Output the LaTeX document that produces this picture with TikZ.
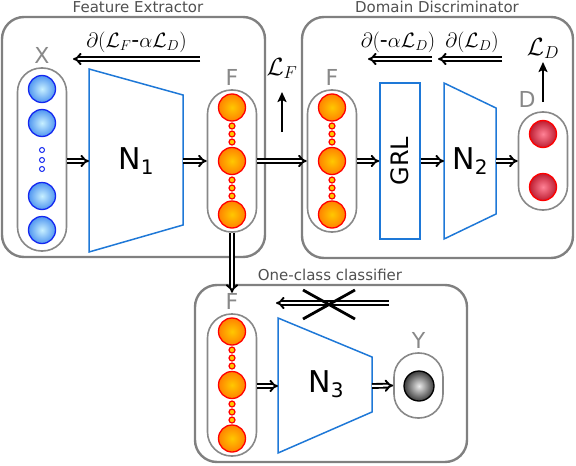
\documentclass[tikz,border=0pt]{standalone}
\usepackage{fontspec}
\setmainfont{DejaVu Sans}
\usepackage{amsmath}
\usetikzlibrary{arrows.meta}
\newcommand{\netname}[1]{{\fontsize{30}{30}\selectfont N}\raisebox{-5pt}{\fontsize{20}{20}\selectfont #1}}

\begin{document}
\begin{tikzpicture}[x=1pt,y=-1pt,
  panel/.style={draw=panelcolor,line width=2.4pt,rounded corners=22pt,inner sep=0pt},
  pill/.style={draw=pillcolor,line width=1.6pt,rounded corners=24pt,minimum width=49pt,inner sep=0pt},
  title/.style={text=titlecolor,font=\fontsize{15}{15}\selectfont},
  tag/.style={text=pillcolor,font=\fontsize{22}{22}\selectfont,inner sep=0pt,above=4pt},
  net/.style={draw=netcolor,line width=1.5pt},
  unit/.style={circle,inner sep=0pt,minimum size=27pt,line width=1.3pt},
  xunit/.style={unit,draw=xedge,inner color=xin,outer color=xout},
  funit/.style={unit,draw=fedge,inner color=fin,outer color=fout},
  dunit/.style={unit,draw=fedge,inner color=din,outer color=dout},
  yunit/.style={unit,minimum size=30pt,draw=black,inner color=yin,outer color=yout},
  xdot/.style={circle,inner sep=0pt,minimum size=5pt,line width=1pt,draw=xedge,fill=white},
  fdot/.style={circle,inner sep=0pt,minimum size=6pt,line width=1.2pt,draw=fedge,fill=fin},
  flow/.style={draw=black,double=white,double distance=2pt,line width=1.9pt,-{Implies}},
  loss/.style={line width=2.4pt,-{Stealth[length=10pt,width=9pt,inset=2pt]}},
  lossname/.style={font=\fontsize{23}{23}\selectfont,inner sep=0pt},
  grad/.style={font=\fontsize{22}{22}\selectfont,inner sep=0pt,above=5pt},
]
\definecolor{panelcolor}{RGB}{128,128,128}
\definecolor{pillcolor}{RGB}{136,136,136}
\definecolor{titlecolor}{RGB}{80,80,80}
\definecolor{netcolor}{RGB}{30,120,215}
\definecolor{xedge}{RGB}{20,40,240}
\definecolor{xin}{RGB}{200,240,255}
\definecolor{xout}{RGB}{80,150,240}
\definecolor{fedge}{RGB}{255,0,0}
\definecolor{fin}{RGB}{255,200,0}
\definecolor{fout}{RGB}{255,130,0}
\definecolor{din}{RGB}{255,130,150}
\definecolor{dout}{RGB}{190,30,50}
\definecolor{yin}{RGB}{235,235,235}
\definecolor{yout}{RGB}{60,60,60}
\useasboundingbox (0,0) rectangle (576,466);
\node[panel,minimum width=263pt,minimum height=240pt] (fe) at (133.5,137) {};
\node[panel,minimum width=271pt,minimum height=241pt] (dd) at (437.5,137.5) {};
\node[panel,minimum width=272pt,minimum height=177pt] (oc) at (331,373.5) {};
\node[title] (fetitle) at (138,7) {Feature Extractor};
\node[title] (ddtitle) at (437,7) {Domain Discriminator};
\node[title] (octitle) at (330,275) {One-class classifier};
\node[pill,minimum height=183pt] (xcol) at (42,159.5) {};
\node[tag] (xtag) at (xcol.north) {X};
\foreach \y [count=\i] in {89,123,196,230} \node[xunit] (x\i) at (42,\y) {};
\foreach \y [count=\i] in {150,160,169} \node[xdot] (xd\i) at (42,\y) {};
\draw[net] (89,69) -- (183,95) -- (183,225) -- (89,252) -- cycle;
\node (n1) at (136,161) {\netname{1}};
\coordinate (n1w) at (89,161);
\coordinate (n1e) at (183,161);
\foreach \c/\x/\y in {ffe/232/161,fdd/332/161,foc/232/385}{
  \node[pill,minimum height=142pt] (\c) at (\x,\y) {};
  \node[tag] (\c-tag) at (\c.north) {F};
  \foreach \k [count=\i] in {-53.5,0,53.5} \node[funit] (\c\i) at (\x,\y+\k) {};
  \foreach \k [count=\i] in {-35,-27,-19,19,27,35} \node[fdot] (\c-d\i) at (\x,\y+\k) {};
}
\node[net,minimum width=40pt,minimum height=156pt,inner sep=0pt,font=\fontsize{24}{24}\selectfont] (grl) at (400,161) {\rotatebox{90}{GRL}};
\draw[net] (444,83) -- (496,108) -- (496,214) -- (444,239) -- cycle;
\node (n2) at (470,161) {\netname{2}};
\coordinate (n2w) at (444,161);
\coordinate (n2e) at (496,161);
\node[pill,minimum height=98pt] (dcol) at (543,161) {};
\node[tag,xshift=-16pt] (dtag) at (dcol.north) {D};
\foreach \y [count=\i] in {134,187} \node[dunit] (d\i) at (543,\y) {};
\draw[net] (278,318) -- (372,357) -- (372,412) -- (278,453) -- cycle;
\node (n3) at (326,384) {\netname{3}};
\coordinate (n3w) at (278,386);
\coordinate (n3e) at (372,386);
\node[pill,minimum height=65pt] (ycol) at (418.5,385.5) {};
\node[tag] (ytag) at (ycol.north) {Y};
\node[yunit] (y1) at (419,386) {};
\draw[flow] (xcol.east |- n1w) -- (n1w);
\draw[flow] (n1e) -- (ffe.west |- n1e);
\draw[flow] (ffe.east) -- (fdd.west);
\draw[flow] (fdd.east) -- (grl.west);
\draw[flow] (grl.east) -- (n2w);
\draw[flow] (n2e) -- (dcol.west |- n2e);
\draw[flow] (ffe.south) -- (foc-tag.north);
\draw[flow] (foc.east |- n3w) -- (n3w);
\draw[flow] (n3e) -- (ycol.west);
\coordinate (lfbase) at (282,132);
\coordinate (lftip) at (282,92);
\node[lossname,above=13pt] (lf) at (lftip) {$\mathcal{L}_F$};
\draw[loss] (lfbase) -- (lftip);
\coordinate (ldbase) at (543,102);
\coordinate (ldtip) at (543,62);
\node[lossname,above=3pt] (ld) at (ldtip) {$\mathcal{L}_D$};
\draw[loss] (ldbase) -- (ldtip);
\coordinate (gfer) at (200,59);
\coordinate (gfel) at (73,59);
\draw[flow] (gfer) -- (gfel) node[grad,midway] (gfe) {$\partial(\mathcal{L}_F\text{-}\alpha\mathcal{L}_D)$};
\coordinate (grlr) at (432,59);
\coordinate (grll) at (368,59);
\draw[flow] (grlr) -- (grll) node[grad,midway,xshift=-2pt] (ggrl) {$\partial(\text{-}\alpha\mathcal{L}_D)$};
\coordinate (gddr) at (502,59);
\coordinate (gddl) at (438,59);
\draw[flow] (gddr) -- (gddl) node[grad,midway,xshift=2pt] (gdd) {$\partial(\mathcal{L}_D)$};
\coordinate (ocr) at (389,303);
\coordinate (ocl) at (276,303);
\draw[flow] (ocr) -- (ocl);
\coordinate (xcross) at (329,304);
\draw[line width=2.8pt] ([shift={(-26,-14)}]xcross) -- ([shift={(26,15)}]xcross) ([shift={(-26,15)}]xcross) -- ([shift={(26,-14)}]xcross);
\end{tikzpicture}
\end{document}
